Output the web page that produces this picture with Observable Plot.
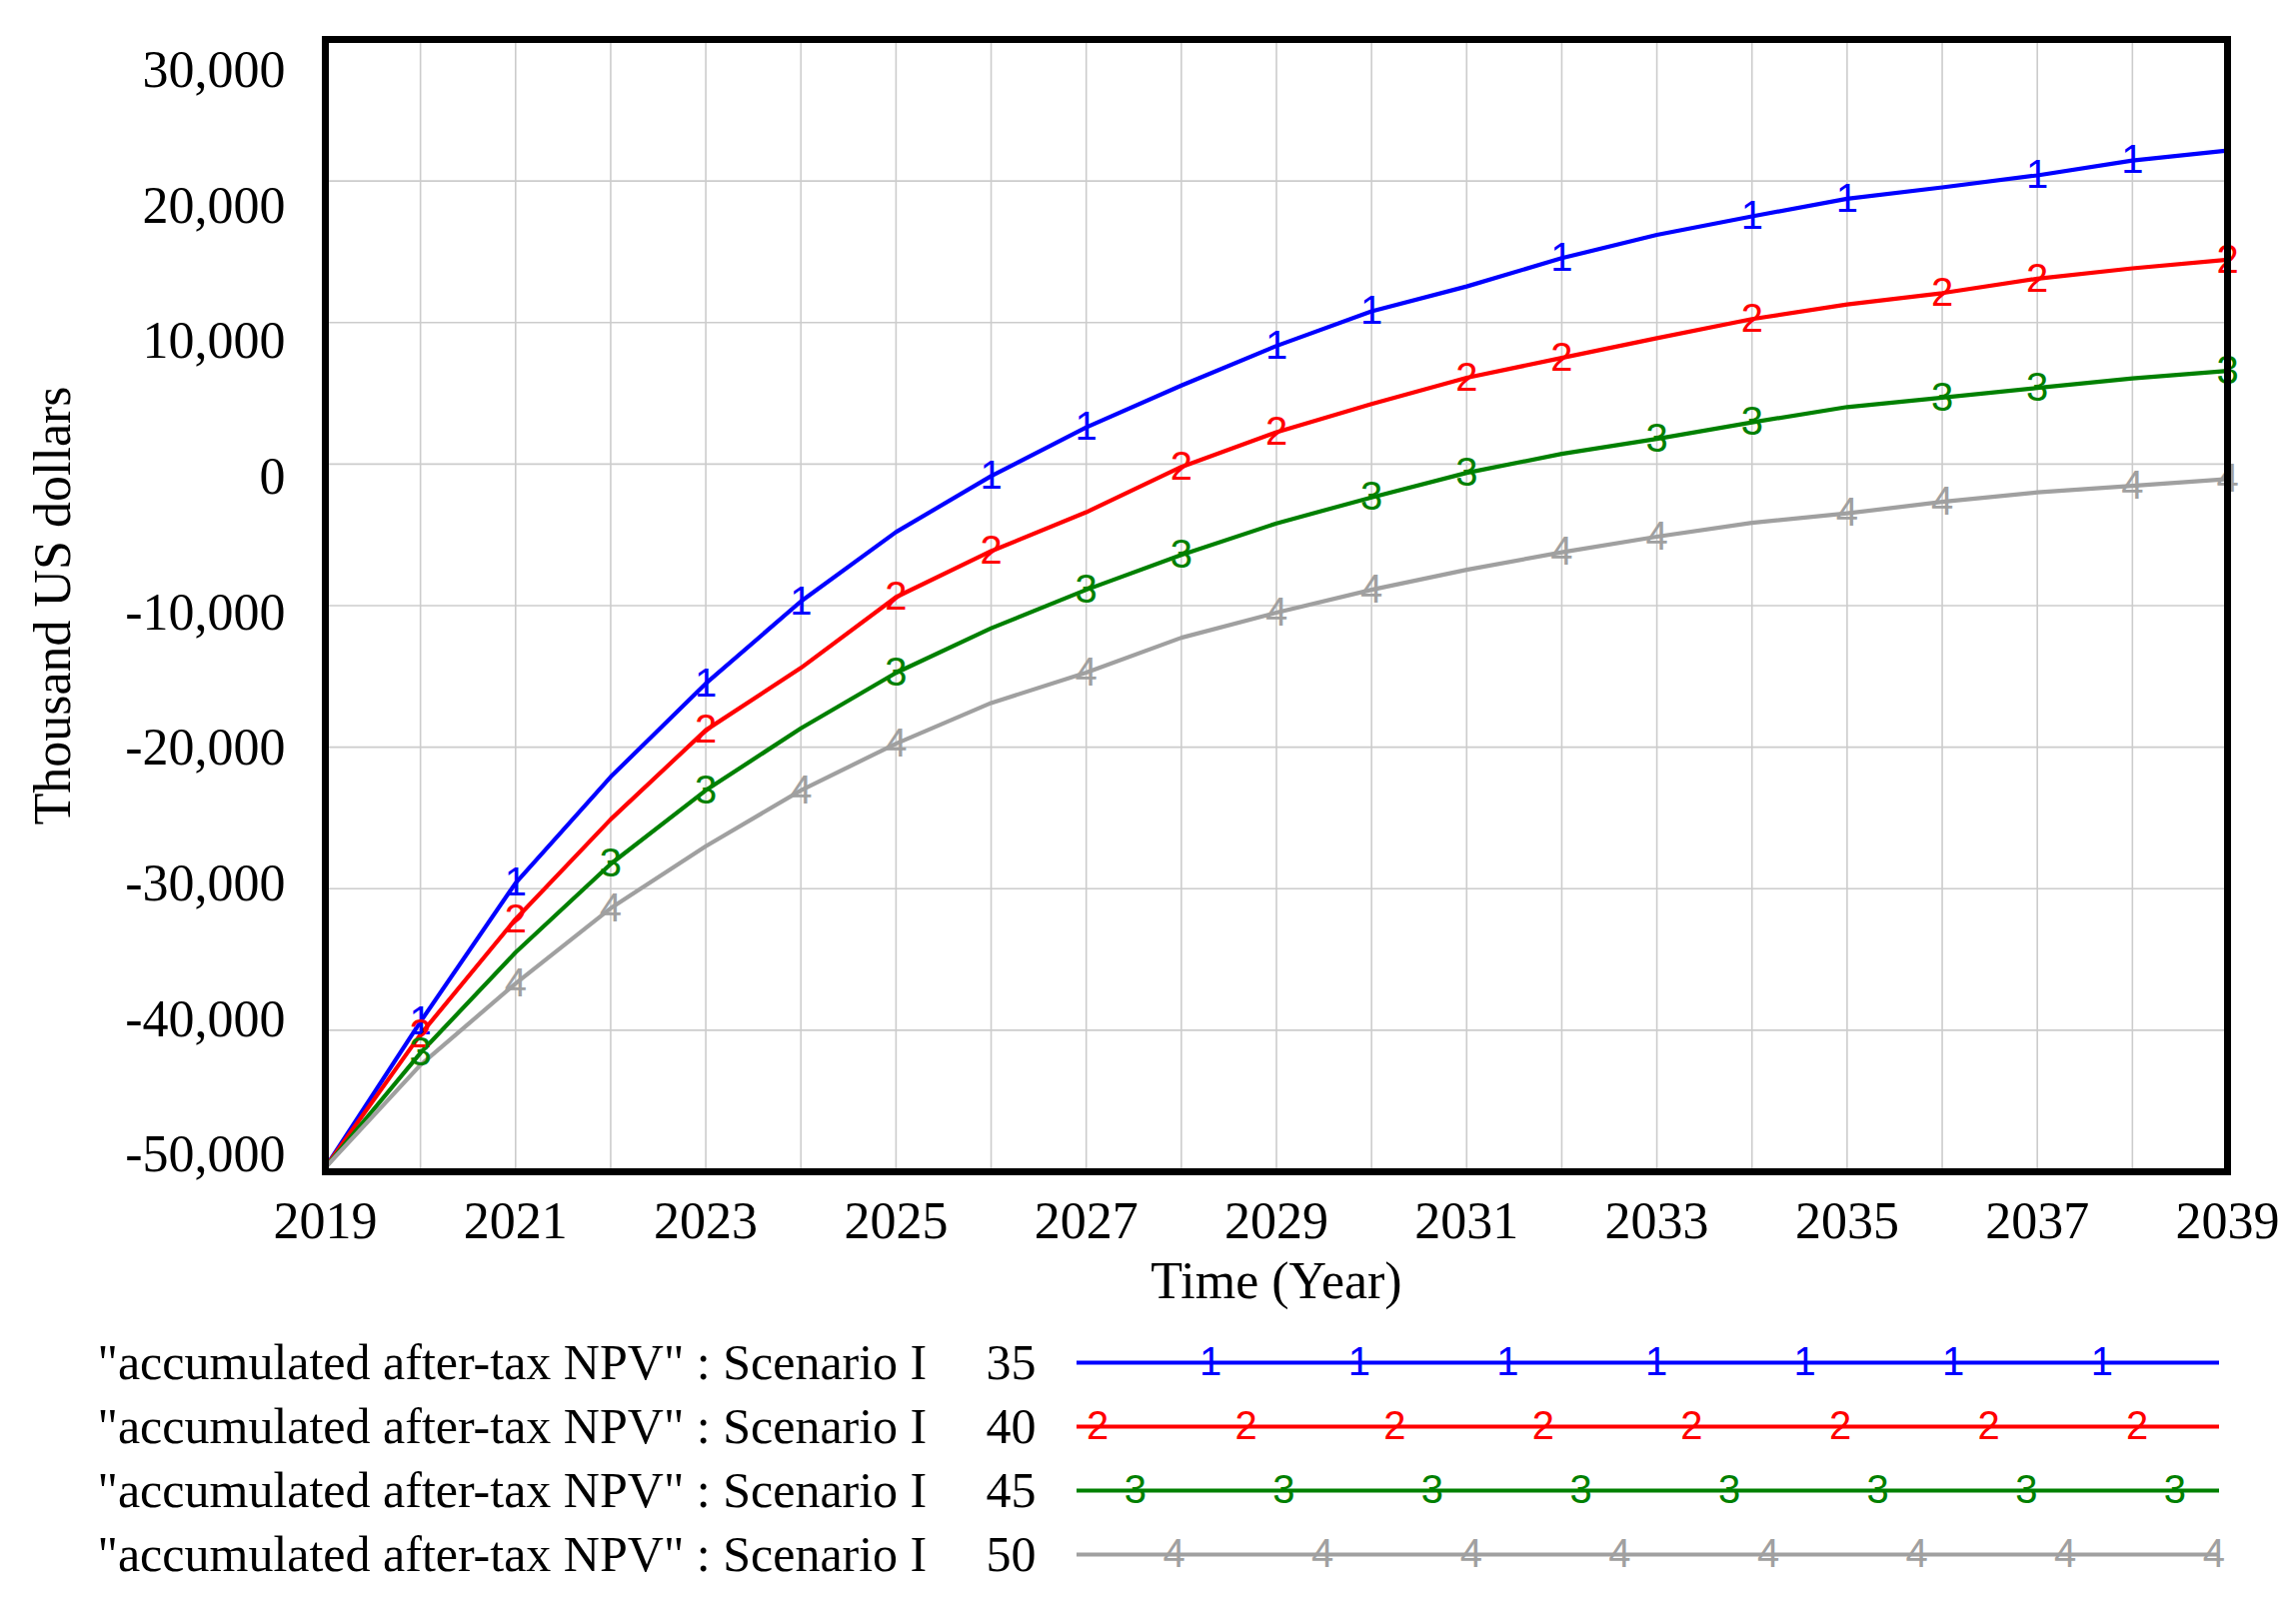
<!DOCTYPE html>
<html>
<head>
<meta charset="utf-8">
<script src="https://cdn.jsdelivr.net/npm/d3@7"></script>
<script src="https://cdn.jsdelivr.net/npm/@observablehq/plot@0.6"></script>
<style>
  html, body { margin: 0; padding: 0; background: #ffffff; }
  #chart svg { display: block; }
</style>
</head>
<body>
<div id="chart"></div>
<script>
// ---------- data ----------
const years = [2019, 2020, 2021, 2022, 2023, 2024, 2025, 2026, 2027, 2028, 2029,
               2030, 2031, 2032, 2033, 2034, 2035, 2036, 2037, 2038, 2039];

const npv35 = [-49700, -39400, -29600, -22100, -15500, -9700, -4800, -850, 2600, 5550, 8350,
               10800, 12550, 14550, 16200, 17500, 18750, 19550, 20400, 21450, 22150];
const npv40 = [-49700, -40300, -32150, -25100, -18800, -14400, -9400, -6150, -3400, -200, 2250,
               4240, 6100, 7500, 8900, 10250, 11280, 12080, 13100, 13830, 14440];
const npv45 = [-49700, -41600, -34500, -28250, -23050, -18670, -14750, -11600, -8880, -6420, -4190,
               -2350, -620, 720, 1780, 2950, 4030, 4700, 5380, 6050, 6580];
const npv50 = [-49700, -42450, -36700, -31380, -27000, -23050, -19750, -16880, -14730, -12270, -10500,
               -8880, -7470, -6230, -5130, -4150, -3480, -2670, -2000, -1540, -1060];

const scenarioLabel = '"accumulated after-tax NPV" : Scenario I';
const scenarioNumbers = ["35", "40", "45", "50"];
const markerGlyphs = ["1", "2", "3", "4"];
const seriesColors = ["#0000ff", "#ff0000", "#008000", "#a0a0a0"];

// years at which the numbered markers sit on each curve
const markerYears35 = [2020, 2021, 2023, 2024, 2026, 2027, 2029, 2030, 2032, 2034, 2035, 2037, 2038];
const markerYears40 = [2020, 2021, 2023, 2025, 2026, 2028, 2029, 2031, 2032, 2034, 2036, 2037, 2039];
const markerYears45 = [2020, 2022, 2023, 2025, 2027, 2028, 2030, 2031, 2033, 2034, 2036, 2037, 2039];
const markerYears50 = [2021, 2022, 2024, 2025, 2027, 2029, 2030, 2032, 2033, 2035, 2036, 2038, 2039];

const xLabelTicks = [2019, 2021, 2023, 2025, 2027, 2029, 2031, 2033, 2035, 2037, 2039];
const yTicks = [-50000, -40000, -30000, -20000, -10000, 0, 10000, 20000, 30000];
const xTitle = "Time (Year)";
const yTitle = "Thousand US dollars";

// legend marker layout (fraction along legend line)
const legendMarkerStart = [0.117, 0.018, 0.051, 0.085];
const legendMarkerStep = 0.130;

// ---------- build tables ----------
const seriesValues = [npv35, npv40, npv45, npv50];
const markerYears = [markerYears35, markerYears40, markerYears45, markerYears50];
const seriesKeys = scenarioNumbers;

const rows = [];
seriesValues.forEach((vals, i) => {
  years.forEach((yr, j) => rows.push({series: seriesKeys[i], year: yr, value: vals[j]}));
});

const markerRows = [];
markerYears.forEach((ys, i) => {
  ys.forEach(yr => {
    const j = years.indexOf(yr);
    markerRows.push({series: seriesKeys[i], year: yr, value: seriesValues[i][j], glyph: markerGlyphs[i]});
  });
});

const legendRows = seriesKeys.map((k, i) => ({series: k, number: scenarioNumbers[i]}));
const legendMarkers = [];
seriesKeys.forEach((k, i) => {
  for (let t = legendMarkerStart[i]; t <= 1.0001; t += legendMarkerStep) {
    legendMarkers.push({series: k, t, glyph: markerGlyphs[i]});
  }
});

// ---------- main chart ----------
const W = 2297;
const H = 1330;
const serif = "'Liberation Serif', 'Times New Roman', serif";
const sans = "'Liberation Sans', Arial, sans-serif";

// The tick labels of the source tool sit on a slightly compressed ladder
// relative to the grid; emulate with a small per-tick vertical offset.
const yDomain = [-50000, 30000];
const yLabelOffset = v => 31 - (yDomain[1] - v) / (yDomain[1] - yDomain[0]) * 48;

const main = Plot.plot({
  width: W,
  height: H,
  marginTop: 39,
  marginBottom: 158,
  marginLeft: 325,
  marginRight: 69,
  style: {fontFamily: serif, background: "white", overflow: "visible", color: "black"},
  x: {domain: [2019, 2039]},
  y: {domain: yDomain},
  color: {domain: seriesKeys, range: seriesColors},
  marks: [
    Plot.gridX(years, {stroke: "#cccccc", strokeOpacity: 1, strokeWidth: 1.6}),
    Plot.gridY(yTicks, {stroke: "#cccccc", strokeOpacity: 1, strokeWidth: 1.6}),
    Plot.axisX(xLabelTicks, {tickSize: 0, tickPadding: 30, fontSize: 52, tickFormat: d => String(d), label: null}),
    ...yTicks.map(v => Plot.axisY([v], {tickSize: 0, tickPadding: 40, fontSize: 52, dy: yLabelOffset(v),
                                        tickFormat: d => d.toLocaleString("en-US"), label: null})),
    Plot.line(rows, {x: "year", y: "value", z: "series", stroke: "series", strokeWidth: 4.2, curve: "linear"}),
    Plot.text(markerRows, {x: "year", y: "value", text: "glyph", fill: "series", fontFamily: sans, fontSize: 40}),
    Plot.frame({stroke: "black", strokeWidth: 7}),
    Plot.text([xTitle], {text: d => d, frameAnchor: "bottom", dy: 126, fontSize: 52, fill: "black"}),
    Plot.text([yTitle], {text: d => d, frameAnchor: "left", dx: -272, rotate: -90, textAnchor: "middle", fontSize: 52, fill: "black"})
  ]
});

// ---------- legend ----------
const legend = Plot.plot({
  width: W,
  height: 1623 - H,
  margin: 0,
  style: {fontFamily: serif, background: "white", overflow: "visible", color: "black"},
  x: {domain: [0, 1], range: [1077, 2220], axis: null},
  y: {type: "point", domain: seriesKeys, range: [33, 225], padding: 0, axis: null},
  color: {domain: seriesKeys, range: seriesColors},
  marks: [
    Plot.text(legendRows, {frameAnchor: "left", dx: 97, y: "series", text: () => scenarioLabel, textAnchor: "start", fontSize: 50, fill: "black"}),
    Plot.text(legendRows, {frameAnchor: "left", dx: 986, y: "series", text: "number", textAnchor: "start", fontSize: 50, fill: "black"}),
    Plot.ruleY(legendRows, {y: "series", x1: () => 0, x2: () => 1, stroke: "series", strokeWidth: 4.2}),
    Plot.text(legendMarkers, {x: "t", y: "series", text: "glyph", fill: "series", fontFamily: sans, fontSize: 40})
  ]
});

const container = document.getElementById("chart");
container.appendChild(main);
container.appendChild(legend);
</script>
</body>
</html>
